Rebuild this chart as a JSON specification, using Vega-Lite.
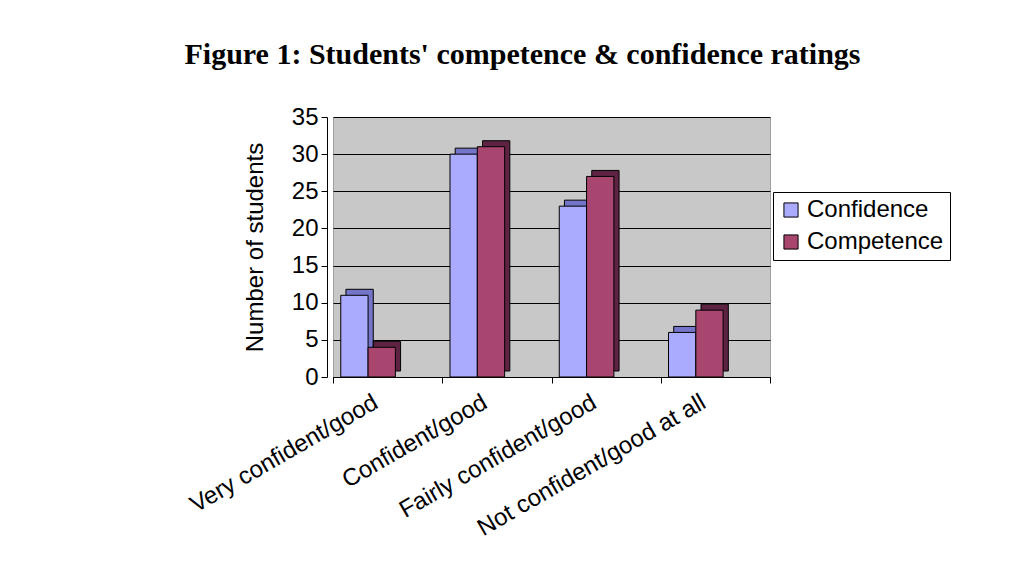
{
  "$schema": "https://vega.github.io/schema/vega-lite/v6.json",
  "autosize": "none",
  "width": 437,
  "height": 260,
  "padding": {"left": 333, "top": 117, "right": 256, "bottom": 187},
  "background": "white",
  "title": {
    "text": "Figure 1: Students' competence & confidence ratings",
    "font": "Liberation Serif",
    "fontSize": 30,
    "fontWeight": "bold",
    "color": "black",
    "anchor": "middle",
    "dx": -29,
    "offset": 35
  },
  "data": {
    "values": [
      {"rating": "Very confident/good", "series": "Confidence", "students": 11},
      {"rating": "Very confident/good", "series": "Competence", "students": 4},
      {"rating": "Confident/good", "series": "Confidence", "students": 30},
      {"rating": "Confident/good", "series": "Competence", "students": 31},
      {"rating": "Fairly confident/good", "series": "Confidence", "students": 23},
      {"rating": "Fairly confident/good", "series": "Competence", "students": 27},
      {"rating": "Not confident/good at all", "series": "Confidence", "students": 6},
      {"rating": "Not confident/good at all", "series": "Competence", "students": 9}
    ]
  },
  "encoding": {
    "x": {
      "field": "rating",
      "type": "nominal",
      "sort": ["Very confident/good", "Confident/good", "Fairly confident/good", "Not confident/good at all"],
      "scale": {"paddingInner": 0, "paddingOuter": 0},
      "axis": {
        "title": null,
        "labelAngle": -30,
        "labelAlign": "right",
        "labelBaseline": "top",
        "labelFont": "Liberation Sans",
        "labelFontSize": 24,
        "labelColor": "black",
        "labelLimit": 0,
        "labelPadding": 7,
        "labelOffset": -18,
        "tickBand": "extent",
        "tickColor": "black",
        "tickSize": 6,
        "domainColor": "black",
        "grid": false
      }
    },
    "y": {
      "field": "students",
      "type": "quantitative",
      "scale": {"domain": [0, 35], "nice": false},
      "axis": {
        "title": "Number of students",
        "titleFont": "Liberation Sans",
        "titleFontSize": 24,
        "titleFontWeight": "normal",
        "titleColor": "black",
        "titlePadding": 24,
        "values": [0, 5, 10, 15, 20, 25, 30, 35],
        "labelFont": "Liberation Sans",
        "labelFontSize": 24,
        "labelColor": "black",
        "labelPadding": 3,
        "grid": true,
        "gridColor": "black",
        "gridWidth": 1,
        "gridOpacity": 1,
        "domainColor": "black",
        "tickColor": "black",
        "tickSize": 6,
        "offset": 6
      }
    }
  },
  "layer": [
    {
      "mark": {"type": "bar", "yOffset": -6, "stroke": "black", "strokeWidth": 1, "opacity": 1},
      "encoding": {
        "xOffset": {
          "field": "series",
          "type": "nominal",
          "sort": ["Confidence", "Competence"],
          "scale": {"paddingInner": 0, "paddingOuter": 1.375, "align": 0.237}
        },
        "color": {
          "field": "series",
          "type": "nominal",
          "scale": {"domain": ["Confidence", "Competence"], "range": ["#7474C8", "#5E2342"]},
          "legend": null
        }
      }
    },
    {
      "mark": {"type": "bar", "stroke": "black", "strokeWidth": 1, "opacity": 1},
      "encoding": {
        "xOffset": {
          "field": "series",
          "type": "nominal",
          "sort": ["Confidence", "Competence"],
          "scale": {"paddingInner": 0, "paddingOuter": 1.375, "align": 0.142}
        },
        "color": {
          "field": "series",
          "type": "nominal",
          "scale": {"domain": ["Confidence", "Competence"], "range": ["#AAAAFF", "#A8466F"]},
          "legend": {
            "title": null,
            "orient": "none",
            "legendX": 440,
            "legendY": 75,
            "strokeColor": "black",
            "fillColor": "white",
            "padding": 6,
            "rowPadding": 8,
            "labelFont": "Liberation Sans",
            "labelFontSize": 24,
            "labelColor": "black",
            "labelOffset": 4,
            "symbolType": "square",
            "symbolSize": 200,
            "symbolStrokeColor": "black",
            "symbolStrokeWidth": 1,
            "symbolOpacity": 1
          }
        }
      }
    }
  ],
  "resolve": {"scale": {"color": "independent", "xOffset": "independent"}},
  "config": {
    "view": {"fill": "#C8C8C8", "stroke": "#A0A0A0"}
  }
}
